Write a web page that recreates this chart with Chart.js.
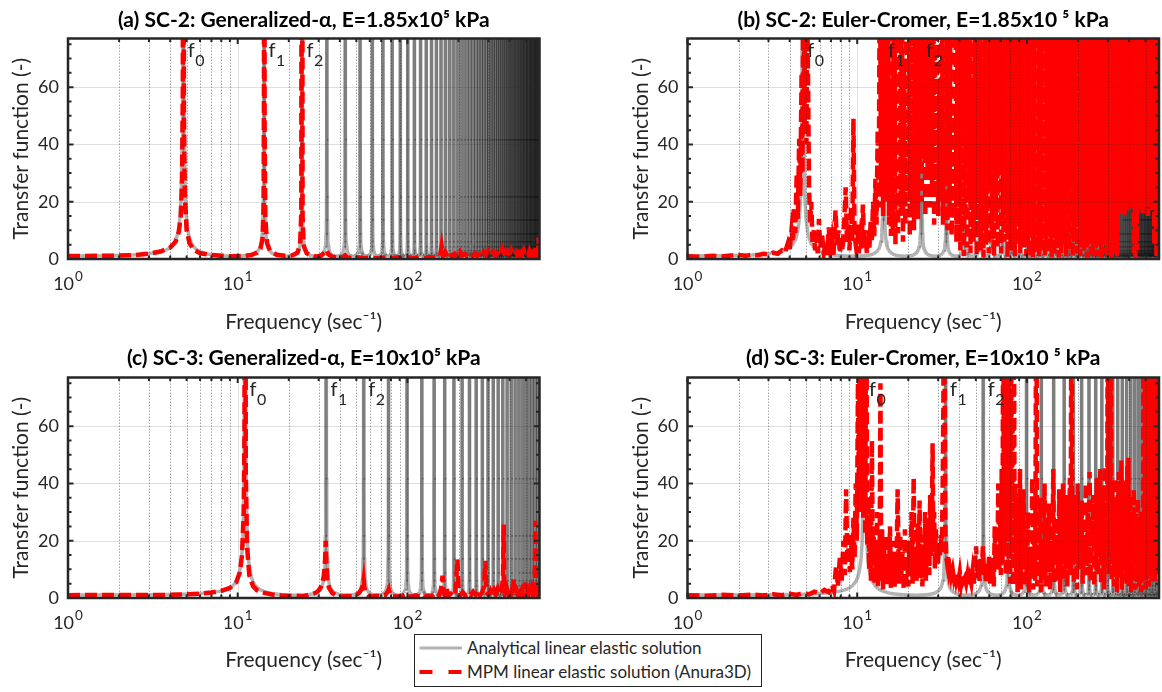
<!DOCTYPE html>
<html>
<head>
<meta charset="utf-8">
<script src="https://cdn.jsdelivr.net/npm/chart.js@4.4.1/dist/chart.umd.min.js"></script>
<style>
  html, body { margin: 0; padding: 0; background: #fff; }
  #fig { position: relative; width: 1162px; height: 692px; overflow: hidden; font-family: Lato, "DejaVu Sans", sans-serif; }
  #fig canvas { position: absolute; }
  #legend { position: absolute; left: 414px; top: 634px; width: 346px; height: 51px;
            border: 1.5px solid #262626; background: #fff; z-index: 5; }
  #legend .row { position: absolute; left: 0; width: 100%; height: 22px; }
  #legend svg { position: absolute; left: 0; top: 0; }
  #legend span { position: absolute; left: 52px; top: 0; line-height: 22px; font-size: 17px; color: #262626; white-space: nowrap; }
</style>
</head>
<body>
<div id="fig">
  <canvas id="pa" width="542" height="342" style="left:0px;top:0px"></canvas>
  <canvas id="pb" width="542" height="342" style="left:620px;top:0px"></canvas>
  <canvas id="pc" width="542" height="342" style="left:0px;top:338px"></canvas>
  <canvas id="pd" width="542" height="342" style="left:620px;top:338px"></canvas>
  <div id="legend">
    <div class="row" style="top:2px">
      <svg width="50" height="22"><line x1="4.5" y1="11" x2="47" y2="11" stroke="#b3b3b3" stroke-width="3"/></svg>
      <span>Analytical linear elastic solution</span>
    </div>
    <div class="row" style="top:25.5px">
      <svg width="50" height="22"><line x1="4.5" y1="11" x2="47" y2="11" stroke="#ff0000" stroke-width="4" stroke-dasharray="13 16"/></svg>
      <span>MPM linear elastic solution (Anura3D)</span>
    </div>
  </div>
</div>
<script>
// ---- axes ----
const xMajorTicks = [1, 10, 100];
const xTickBase = '10';
const xTickExponents = ['0', '1', '2'];
const xMinorTicks = [2, 3, 4, 5, 6, 7, 8, 9, 20, 30, 40, 50, 60, 70, 80, 90, 200, 300, 400, 500];
const yMajorTicks = [0, 20, 40, 60];
const yMinorTicks = [5, 10, 15, 25, 30, 35, 45, 50, 55, 65, 70, 75];

const panelTitles = [
  '(a) SC-2: Generalized-α, E=1.85x10⁵ kPa',
  '(b) SC-2: Euler-Cromer, E=1.85x10 ⁵ kPa',
  '(c) SC-3: Generalized-α, E=10x10⁵ kPa',
  '(d) SC-3: Euler-Cromer, E=10x10 ⁵ kPa'
];

// ---- analytical resonance frequencies (Hz) ----
const peaksSC2 = [4.78, 14.3, 23.9, 33.5, 43.0, 52.6, 62.1, 71.7, 81.3, 90.8, 100.4, 109.9, 119.5, 129.1,
  138.6, 148.2, 157.7, 167.3, 176.9, 186.4, 196.0, 205.5, 215.1, 224.7, 234.2, 243.8, 253.3, 262.9, 272.5,
  282.0, 291.6, 301.1, 310.7, 320.3, 329.8, 339.4, 348.9, 358.5, 368.1, 377.6, 387.2, 396.7, 406.3, 415.9,
  425.4, 435.0, 444.5, 454.1, 463.7, 473.2, 482.8, 492.3, 501.9, 511.5, 521.0, 530.6, 540.1, 549.7, 559.3,
  568.8, 578.4, 587.9, 597.5];
const halfGapSC2 = 4.78;
const startSC2 = 1.05;

const peaksSC3 = [11.05, 33.15, 55.25, 77.35, 99.45, 121.55, 143.65, 165.75, 187.85, 209.95, 232.05, 254.15,
  276.25, 298.35, 320.45, 342.55, 364.65, 386.75, 408.85, 430.95, 453.05, 475.15, 497.25, 519.35, 541.45,
  563.55, 585.65];
const halfGapSC3 = 11.05;
const startSC3 = 1.01;

// resonance profile: position between trough (0) and peak (1), and amplitude
const peakShapeU = [0.0, 0.3, 0.5, 0.62, 0.72, 0.8, 0.86, 0.9, 0.93, 0.955, 0.972, 0.985, 0.993, 1.0];
const peakShapeV = [1.0, 1.1, 1.4, 1.8, 2.4, 3.2, 4.6, 6.4, 9.1, 14, 22, 42, 90, 400];

// ---- MPM (Anura3D) transfer functions: [frequency, amplitude] ----
const mpmA = [[1,1.05],[1.5,1.1],[2,1.2],[2.5,1.4],[3,1.85],[3.5,2.6],[4,4.0],[4.3,6.0],[4.5,9.5],[4.62,15],
  [4.7,28],[4.75,60],[4.78,400],[4.82,50],[4.88,22],[5.0,10],[5.2,5.5],[5.5,3.2],[6,2.0],[7,1.4],[8,1.15],
  [9,1.0],[10,1.0],[11,1.1],[12,1.4],[13,2.2],[13.6,3.6],[14.0,7],[14.2,18],[14.28,60],[14.32,400],[14.4,45],
  [14.55,14],[14.9,5.5],[15.5,2.8],[17,1.5],[19,1.1],[21,1.3],[22.5,2.2],[23.3,5],[23.7,16],[23.9,400],
  [24.1,15],[24.5,4.5],[25.5,2.0],[27,1.2],[29,0.8],[31,1.2],[32.5,2.2],[33.3,3.2],[34.2,1.6],[36,0.8],
  [39,0.4],[42,0.8],[43,1.3],[44,0.6],[48,0.3],[52,0.6],[55,0.3],[60,0.5],[66,0.3],[72,0.5],[80,0.3],
  [88,0.6],[95,0.3],[102,0.5],[110,0.3],[118,0.6],[126,0.4],[135,0.7],[143,0.4],[150,0.8],[156,1.2],
  [159,4.5],[162,1.0],[167,2.5],[172,1.0],[178,2.2],[184,0.8],[190,1.8],[196,0.9],[204,2.6],[210,1.2],
  [218,1.8],[226,0.8],[234,1.6],[242,1.0],[250,2.0],[258,1.2],[266,1.6],[274,0.8],[282,2.4],[290,1.4],
  [298,2.8],[306,1.2],[314,1.6],[322,2.4],[330,1.2],[338,2.0],[346,1.0],[354,1.8],[362,3.6],[370,2.2],
  [378,1.0],[388,2.6],[398,1.6],[408,3.2],[418,1.8],[428,1.2],[438,2.2],[448,1.0],[458,2.4],[468,4.0],
  [475,1.8],[484,3.0],[494,1.4],[504,2.2],[514,1.0],[524,2.8],[534,1.6],[544,3.4],[554,1.6],[564,2.4],
  [572,4.0],[580,1.6],[588,3.2],[593,7.5],[596,2.0],[600,5.0]];

// (b) below 40 Hz as [frequency, amplitude]
const mpmBLow = [[1,1.0],[1.2,0.8],[1.4,1.1],[1.6,0.9],[1.8,1.2],[2.0,1.4],[2.2,1.1],[2.4,1.5],[2.6,1.3],
  [2.8,1.8],[3.0,1.6],[3.2,2.2],[3.4,1.8],[3.6,3.0],[3.75,2.2],[3.9,5.5],[4.0,3.0],[4.1,10],[4.18,6],
  [4.25,18],[4.32,9],[4.4,30],[4.47,14],[4.55,42],[4.62,22],[4.7,65],[4.76,30],[4.82,120],[4.88,45],
  [4.95,110],[5.02,40],[5.08,90],[5.14,58],[5.2,26],[5.28,12],[5.36,20],[5.45,6],[5.55,10],[5.65,3],
  [5.75,8],[5.85,2],[5.95,14],[6.05,4],[6.2,9],[6.35,2],[6.5,6],[6.65,1.5],[6.8,11],[6.95,3],[7.1,7],
  [7.25,1.5],[7.45,17],[7.6,5],[7.75,10],[7.9,2],[8.05,8],[8.2,3],[8.4,14],[8.55,25],[8.7,6],[8.85,12],
  [9.0,3],[9.2,18],[9.35,6],[9.5,49],[9.65,8],[9.8,5],[10.0,12],[10.2,2],[10.4,7],[10.6,3],[10.8,19],
  [11.0,4],[11.2,8],[11.4,2],[11.6,10],[11.8,4],[12.0,13],[12.2,6],[12.4,20],[12.6,8],[12.8,28],[13.0,12],
  [13.2,45],[13.4,18],[13.6,120],[13.8,25],[14.0,130],[14.2,15],[14.4,130],[14.6,30],[14.8,140],[15.0,20],
  [15.2,110],[15.4,12],[15.6,120],[15.8,8],[16.0,60],[16.2,10],[16.5,130],[16.8,5],[17.1,95],[17.4,9],
  [17.7,140],[18.0,15],[18.3,120],[18.6,6],[18.9,70],[19.2,12],[19.5,130],[19.8,20],[20.1,140],[20.4,8],
  [20.7,110],[21.0,18],[21.3,130],[21.6,10],[21.9,90],[22.2,22],[22.5,140],[22.8,14],[23.1,120],[23.4,30],
  [23.7,140],[24.0,20],[24.3,110],[24.6,35],[24.9,140],[25.2,15],[25.6,100],[26.0,28],[26.4,130],[26.8,18],
  [27.2,85],[27.6,25],[28.0,130],[28.4,12],[28.8,75],[29.2,22],[29.6,120],[30.0,15],[30.5,60],[31.0,20],
  [31.5,110],[32.0,12],[32.5,70],[33.0,28],[33.5,130],[34.0,10],[34.5,55],[35.0,18],[35.5,110],[36.0,8],
  [36.6,50],[37.2,14],[37.8,120],[38.4,6],[39.0,80],[39.6,20],[40.2,130]];

// (b) above 40 Hz: amplitudes on uniform frequency bins, [first bin, bin width] per block
const mpmBBins = [[40.5, 0.5], [60.8, 0.8], [101.2, 1.2], [162, 2], [253, 3], [404.5, 4.5]];
const mpmBBlock1 = [3,120,9,140,1,95,14,150,4,130,20,110,2,150,11,60,6,140,16,125,1,150,8,100,24,145,3,130,12,70,
  0.5,150,18,120,5,140,10,150,2,110];
const mpmBBlock2 = [26,150,7,85,1,140,15,150,4,125,30,150,2,100,12,145,6,150,20,130,0.5,150,9,75,3,140,17,150,8,120,
  1,150,22,135,5,150,13,105,2,150,10,140,28,150,4,125,15,150,1,90];
const mpmBBlock3 = [6,150,1,140,9,150,0.5,130,4,150,2,115,8,150,0.5,140,5,150,3,125,10,150,1,140,6,150,12,130,2,150,
  7,145,0.5,150,4,120,1,150,9,140,3,150,6,135,0.5,150,8,150,2,140];
const mpmBBlock4 = [5,150,11,140,1,150,7,125,3,150,9,140,0.5,150,6,130,12,150,2,145,8,150,1,135,4,150,10,150,3,140,
  7,150,0.5,130,5,150,9,145,2,150,6,125,1,150,8];
const mpmBBlock5 = [150,4,140,1,150,7,130,0.5,150,5,145,2,150,8,135,1,150,3,140,6,150,0.5,125,4,150,2,145,7,150,1,
  140,17,150,20,130,16,150,22,145,18,150,15,135,21,150,19,140,17,150,20];
const mpmBBlock6 = [150,18,140,20,150,2,135,0.5,150,3,145,17,150,21,130,19,150,16,140,22,150,18,145,20,150,15,135,21,
  150,19,140,17,150,22,130,5,150,18,145,1,150,20,140,3,150];
const mpmBBlocks = [mpmBBlock1, mpmBBlock2, mpmBBlock3, mpmBBlock4, mpmBBlock5, mpmBBlock6];

const mpmC = [[1,1.0],[2,1.02],[3,1.05],[4,1.1],[5,1.3],[6,1.5],[7,1.9],[8,2.5],[9,3.5],[9.8,5.5],[10.3,9],
  [10.6,15],[10.85,30],[10.97,60],[11.05,400],[11.15,45],[11.35,18],[11.7,8],[12.3,4.2],[13,2.7],[14,1.9],
  [16,1.2],[18,0.9],[20,0.7],[22,0.8],[24,0.6],[26,1.0],[28,1.5],[29.5,2.2],[30.5,3.2],[31.5,5],[32.2,8],
  [32.7,13],[33.0,20],[33.3,12],[33.8,6],[34.5,3.5],[36,1.8],[38,0.9],[41,0.5],[44,0.7],[47,0.6],[50,1.0],
  [52,1.8],[53.5,3.0],[54.6,4.5],[55.2,6.5],[55.8,3.5],[57,1.8],[59,0.9],[62,0.5],[66,0.8],[70,0.6],[74,1.0],
  [76.5,2.2],[77.5,3.0],[78.5,1.2],[82,0.6],[88,0.5],[94,0.8],[98,1.4],[100,0.6],[106,0.5],[112,0.9],
  [118,0.5],[122,1.2],[126,0.4],[132,0.8],[138,0.4],[144,1.5],[148,0.6],[154,0.9],[158,3.5],[161,7.8],
  [163,2.0],[166,1.0],[170,3.6],[174,0.8],[180,1.5],[186,0.6],[192,2.2],[197,13.5],[200,3.0],[205,1.0],
  [212,2.0],[220,0.8],[228,1.8],[236,1.0],[244,2.2],[252,1.2],[260,2.6],[268,1.0],[276,2.0],[283,4.0],
  [288,13],[292,2.4],[300,1.2],[308,2.6],[316,1.0],[324,2.8],[332,1.4],[340,3.2],[348,1.6],[356,2.4],
  [362,4.5],[366,8],[369,25.7],[372,6],[376,2.0],[384,3.5],[392,1.6],[400,2.8],[408,1.4],[416,3.0],
  [421,6.6],[425,2.0],[432,1.2],[440,2.6],[448,1.2],[456,3.4],[464,1.6],[472,2.8],[480,1.2],[488,2.4],
  [495,5.4],[500,1.8],[508,2.6],[516,1.2],[524,3.0],[532,1.8],[540,3.4],[548,1.6],[556,4.2],[562,2.4],
  [567,27],[572,3.0],[580,1.8],[588,3.6],[596,2.0],[600,4.0]];

const mpmD = [[1,1.0],[1.3,0.8],[1.6,1.1],[2.0,0.9],[2.4,1.2],[2.8,0.9],[3.2,1.3],[3.6,1.0],[4.0,1.5],
  [4.4,1.1],[4.8,1.7],[5.2,1.3],[5.6,2.2],[6.0,1.6],[6.4,2.8],[6.8,2.0],[7.1,4.5],[7.3,2.5],[7.5,11],[7.7,4],
  [7.9,14],[8.1,6],[8.3,20],[8.45,8],[8.6,38],[8.75,12],[8.9,18],[9.05,9],[9.2,22],[9.35,10],[9.5,28],
  [9.65,14],[9.8,40],[9.95,20],[10.1,75],[10.25,30],[10.4,120],[10.55,35],[10.7,130],[10.85,28],[11.0,110],
  [11.15,22],[11.3,130],[11.45,18],[11.6,35],[11.75,10],[11.9,28],[12.05,6],[12.2,55],[12.35,12],[12.5,22],
  [12.65,5],[12.8,18],[12.95,8],[13.1,30],[13.25,4],[13.4,20],[13.55,9],[13.7,75],[13.85,6],[14.0,24],
  [14.2,3],[14.4,18],[14.6,6],[14.8,22],[15.0,4],[15.2,16],[15.4,8],[15.6,25],[15.8,3],[16.0,14],[16.2,6],
  [16.4,20],[16.6,4],[16.8,12],[17.0,7],[17.3,38],[17.6,5],[17.9,22],[18.2,8],[18.5,16],[18.8,3],[19.1,24],
  [19.4,6],[19.7,14],[20.0,4],[20.3,20],[20.6,9],[20.9,30],[21.2,5],[21.5,42],[21.8,10],[22.1,18],[22.4,6],
  [22.7,26],[23.0,8],[23.3,34],[23.6,7],[23.9,15],[24.2,4],[24.5,22],[24.8,10],[25.1,30],[25.4,6],[25.7,20],
  [26.0,12],[26.3,28],[26.6,8],[26.9,36],[27.2,14],[27.5,22],[27.8,54],[28.1,16],[28.4,30],[28.7,10],
  [29.0,24],[29.3,14],[29.6,20],[29.9,12],[30.3,18],[30.7,14],[31.1,22],[31.5,16],[31.9,40],[32.2,70],
  [32.5,130],[32.8,60],[33.1,22],[33.5,14],[33.9,12],[34.4,15],[34.9,10],[35.4,12],[35.9,8],[36.5,10],
  [37.1,7],[37.7,9],[38.3,6],[38.9,8],[39.5,6],[40.2,9],[40.9,5],[41.6,8],[42.3,6],[43.0,7],[43.8,5],
  [44.6,8],[45.4,4],[46.2,7],[47.0,5],[47.8,9],[48.6,5],[49.4,12],[50.2,18],[51.0,7],[51.8,11],[52.6,6],
  [53.4,14],[54.2,8],[55.0,18],[55.8,9],[56.6,12],[57.4,5],[58.2,10],[59.0,6],[59.8,15],[60.6,5],[61.4,12],
  [62.2,8],[63.0,14],[63.8,4],[64.6,25],[65.4,10],[66.2,18],[67.0,12],[67.8,40],[68.6,10],[69.4,30],
  [70.2,8],[71.0,45],[71.8,12],[72.6,130],[73.4,15],[74.2,90],[75.0,8],[75.8,130],[76.6,20],[77.4,120],
  [78.2,10],[79.0,70],[79.8,5],[80.6,130],[81.4,15],[82.2,60],[83.0,4],[83.8,120],[84.6,10],[85.4,40],
  [86.2,6],[87.0,35],[88.0,2],[89,28],[90,8],[91,45],[92,3],[93,22],[94,10],[95.5,38],[97,4],[98.5,20],
  [100,6],[101.5,30],[103,2],[104.5,18],[106,8],[107.5,42],[109,3],[110.5,22],[112,6],[113.5,130],[115,4],
  [116.5,28],[118,10],[119.5,35],[121,2],[123,18],[125,8],[127,40],[129,4],[131,26],[133,12],[135,33],
  [137,3],[139,20],[141,10],[143,45],[145,5],[147,28],[149,14],[151,22],[153,6],[155,38],[157,2],[159,30],
  [161,12],[163,40],[165,6],[167,24],[169,10],[171,36],[173,4],[175,20],[177,14],[179,42],[181,8],[183,130],
  [185,12],[187,30],[189,5],[191,36],[193,14],[195,25],[197,3],[199,40],[201,10],[204,28],[207,16],[210,34],
  [213,5],[216,22],[219,12],[222,40],[225,8],[228,30],[231,15],[234,44],[237,6],[240,26],[243,18],[246,36],
  [249,4],[252,30],[255,10],[258,42],[261,8],[264,35],[267,14],[270,45],[273,5],[276,28],[279,12],[282,38],
  [285,3],[288,46],[291,10],[294,30],[297,18],[300,130],[303,8],[306,120],[309,14],[312,130],[315,6],
  [318,40],[321,12],[324,35],[327,4],[330,42],[333,16],[336,28],[339,2],[342,36],[345,10],[348,44],[351,7],
  [354,30],[357,14],[360,48],[363,3],[366,32],[369,12],[372,40],[375,6],[378,26],[381,16],[384,41],[387,5],
  [390,46],[393,10],[396,49],[399,4],[402,28],[405,14],[408,36],[411,2],[414,30],[417,10],[420,25],[423,6],
  [426,38],[429,12],[432,20],[435,3],[438,30],[441,16],[444,24],[447,5],[450,35],[453,10],[456,28],[459,4],
  [462,18],[465,12],[468,30],[471,2],[474,22],[477,8],[480,26],[483,14],[486,120],[489,6],[492,34],[495,10],
  [498,130],[501,3],[504,40],[507,15],[510,28],[513,6],[516,130],[519,10],[522,32],[525,4],[528,120],
  [531,12],[534,38],[537,8],[540,130],[543,16],[546,30],[549,5],[552,120],[555,10],[558,40],[561,14],
  [564,130],[567,6],[570,35],[573,18],[576,130],[579,8],[582,120],[585,20],[588,130],[591,10],[594,130],
  [597,25],[600,90]];

// ---- styling ----
const INK = '#262626';
const GRAY = 'rgba(0,0,0,0.3)';
const GRAY_ALT = 'rgba(0,0,0,0.30)';   // alternating string => every segment stroked on its own
const FONT = 'Lato';

// Analytical curve: the resonance profile placed at every resonance frequency.
function analyticSeries(peaks, halfGap, start) {
  const pts = [{ x: 1, y: start }];
  peaks.forEach((p, k) => {
    for (let i = (k === 0 ? 0 : 1); i < peakShapeU.length; i++) {
      const x = p - halfGap * (1 - peakShapeU[i]);
      if (x > 1) pts.push({ x, y: peakShapeV[i] });
    }
    for (let i = peakShapeU.length - 2; i >= 0; i--) {
      pts.push({ x: p + halfGap * (1 - peakShapeU[i]), y: peakShapeV[i] });
    }
  });
  return pts;
}

// [frequency, amplitude] pairs from uniformly binned amplitude blocks
function binnedPairs(bins, blocks) {
  const out = [];
  blocks.forEach((vals, b) => vals.forEach((v, i) => out.push([bins[b][0] + i * bins[b][1], v])));
  return out;
}
const mpmB = mpmBLow.concat(binnedPairs(mpmBBins, mpmBBlocks));

// grid on top of the curves, box, inner ticks, power-of-ten labels and resonance labels
const panelDecor = {
  id: 'panelDecor',
  afterDatasetsDraw(chart, args, opts) {
    const { ctx, chartArea: a } = chart;
    const xs = chart.scales.x, ys = chart.scales.y;
    const px = v => xs.getPixelForValue(v);
    const py = v => ys.getPixelForValue(v);
    ctx.save();
    ctx.beginPath(); ctx.rect(a.left, a.top, a.right - a.left, a.bottom - a.top); ctx.clip();
    ctx.lineWidth = 1;
    ctx.setLineDash([]);
    ctx.strokeStyle = 'rgba(38,38,38,0.15)';
    ctx.beginPath();
    yMajorTicks.forEach(v => { if (v > 0) { const y = Math.round(py(v)) + 0.5; ctx.moveTo(a.left, y); ctx.lineTo(a.right, y); } });
    xMajorTicks.forEach(v => { if (v > 1) { const x = Math.round(px(v)) + 0.5; ctx.moveTo(x, a.top); ctx.lineTo(x, a.bottom); } });
    ctx.stroke();
    ctx.strokeStyle = 'rgba(38,38,38,0.4)';
    ctx.setLineDash([1.5, 1.5]);
    ctx.beginPath();
    xMinorTicks.forEach(v => { const x = Math.round(px(v)) + 0.5; ctx.moveTo(x, a.top); ctx.lineTo(x, a.bottom); });
    ctx.stroke();
    ctx.restore();

    ctx.save();
    ctx.strokeStyle = INK;
    ctx.setLineDash([]);
    ctx.lineWidth = 2;
    ctx.beginPath();
    const xt = (v, len) => { const x = px(v); ctx.moveTo(x, a.bottom); ctx.lineTo(x, a.bottom - len); ctx.moveTo(x, a.top); ctx.lineTo(x, a.top + len); };
    const yt = (v, len) => { const y = py(v); ctx.moveTo(a.left, y); ctx.lineTo(a.left + len, y); ctx.moveTo(a.right, y); ctx.lineTo(a.right - len, y); };
    xMajorTicks.forEach(v => xt(v, 5.5));
    xMinorTicks.forEach(v => xt(v, 3.5));
    yMajorTicks.forEach(v => yt(v, 5.5));
    yMinorTicks.forEach(v => yt(v, 3.5));
    ctx.stroke();
    ctx.lineWidth = 2.5;
    ctx.strokeRect(a.left, a.top, a.right - a.left, a.bottom - a.top);

    ctx.fillStyle = INK;
    ctx.textAlign = 'left';
    ctx.textBaseline = 'alphabetic';
    // x tick labels as powers of ten
    xMajorTicks.forEach((v, i) => {
      ctx.font = '18px ' + FONT;
      const w1 = ctx.measureText(xTickBase).width;
      ctx.font = '13.5px ' + FONT;
      const w2 = ctx.measureText(xTickExponents[i]).width;
      const x0 = px(v) - (w1 + w2 + 1) / 2;
      ctx.font = '18px ' + FONT;
      ctx.fillText(xTickBase, x0, a.bottom + 31);
      ctx.font = '13.5px ' + FONT;
      ctx.fillText(xTickExponents[i], x0 + w1 + 1, a.bottom + 22);
    });
    // resonance labels f0, f1, f2
    (opts.labels || []).forEach(([f, k]) => {
      const x = px(f) + 4.5;
      ctx.font = '20px ' + FONT;
      ctx.fillText('f', x, a.top + 18.5);
      const w = ctx.measureText('f').width;
      ctx.font = '16px ' + FONT;
      ctx.fillText(k, x + w + 0.5, a.top + 27);
    });
    ctx.restore();
  }
};

function buildPanel(id, cfg) {
  return new Chart(document.getElementById(id), {
    type: 'line',
    data: {
      datasets: [
        { label: 'MPM linear elastic solution (Anura3D)', data: cfg.mpm.map(([x, y]) => ({ x, y })),
          borderColor: '#ff0000', borderWidth: 4.5, borderDash: [12, 5], pointRadius: 0, tension: 0,
          order: 0, clip: 0 },
        { label: 'Analytical linear elastic solution', data: cfg.analytic,
          borderColor: GRAY, borderWidth: 3.5, pointRadius: 0, tension: 0, order: 1, clip: 0,
          segment: { borderColor: c => (c.p0DataIndex % 2 ? GRAY : GRAY_ALT) } }
      ]
    },
    options: {
      responsive: false, animation: false, devicePixelRatio: 1,
      events: [],
      layout: { padding: { left: 0, right: cfg.padRight, top: 0, bottom: 0 } },
      plugins: {
        legend: { display: false },
        tooltip: { enabled: false },
        title: { display: true, text: cfg.title, fullSize: false, color: '#000',
          font: { family: FONT, size: 21, weight: 'bold', lineHeight: '26px' },
          padding: { top: cfg.titleTop, bottom: cfg.titleBottom } },
        panelDecor: { labels: cfg.labels }
      },
      scales: {
        x: {
          type: 'logarithmic', min: 1, max: 600,
          afterBuildTicks: s => { s.ticks = xMajorTicks.map(v => ({ value: v })); },
          afterFit: s => { s.height = cfg.xHeight; },
          grid: { display: false, drawTicks: false }, border: { display: false },
          ticks: { display: false },
          title: { display: true, text: 'Frequency (sec⁻¹)', color: INK,
            font: { family: FONT, size: 21, lineHeight: '24px' }, padding: { top: 0, bottom: 8 } }
        },
        y: {
          type: 'linear', min: 0, max: 77,
          afterBuildTicks: s => { s.ticks = yMajorTicks.map(v => ({ value: v })); },
          afterFit: s => { s.width = cfg.yWidth; },
          grid: { display: false, drawTicks: false }, border: { display: false },
          ticks: { color: INK, padding: 9, font: { family: FONT, size: 18 } },
          title: { display: true, text: 'Transfer function (-)', color: INK,
            font: { family: FONT, size: 21, lineHeight: '24px' }, padding: { top: 9, bottom: 0 } }
        }
      }
    },
    plugins: [panelDecor]
  });
}

const analyticSC2 = analyticSeries(peaksSC2, halfGapSC2, startSC2);
const analyticSC3 = analyticSeries(peaksSC3, halfGapSC3, startSC3);
const labelsSC2 = [[peaksSC2[0], '0'], [peaksSC2[1], '1'], [peaksSC2[2], '2']];
const labelsSC3 = [[peaksSC3[0], '0'], [peaksSC3[1], '1'], [peaksSC3[2], '2']];

buildPanel('pa', { title: panelTitles[0], analytic: analyticSC2, mpm: mpmA, labels: labelsSC2,
  yWidth: 68, padRight: 2.5, titleTop: 7, titleBottom: 5.5, xHeight: 83 });
buildPanel('pb', { title: panelTitles[1], analytic: analyticSC2, mpm: mpmB, labels: labelsSC2,
  yWidth: 67.5, padRight: 3, titleTop: 7, titleBottom: 5.5, xHeight: 83 });
buildPanel('pc', { title: panelTitles[2], analytic: analyticSC3, mpm: mpmC, labels: labelsSC3,
  yWidth: 68, padRight: 2.5, titleTop: 7, titleBottom: 6.5, xHeight: 82 });
buildPanel('pd', { title: panelTitles[3], analytic: analyticSC3, mpm: mpmD, labels: labelsSC3,
  yWidth: 67.5, padRight: 3, titleTop: 7, titleBottom: 6.5, xHeight: 82 });
</script>
</body>
</html>
